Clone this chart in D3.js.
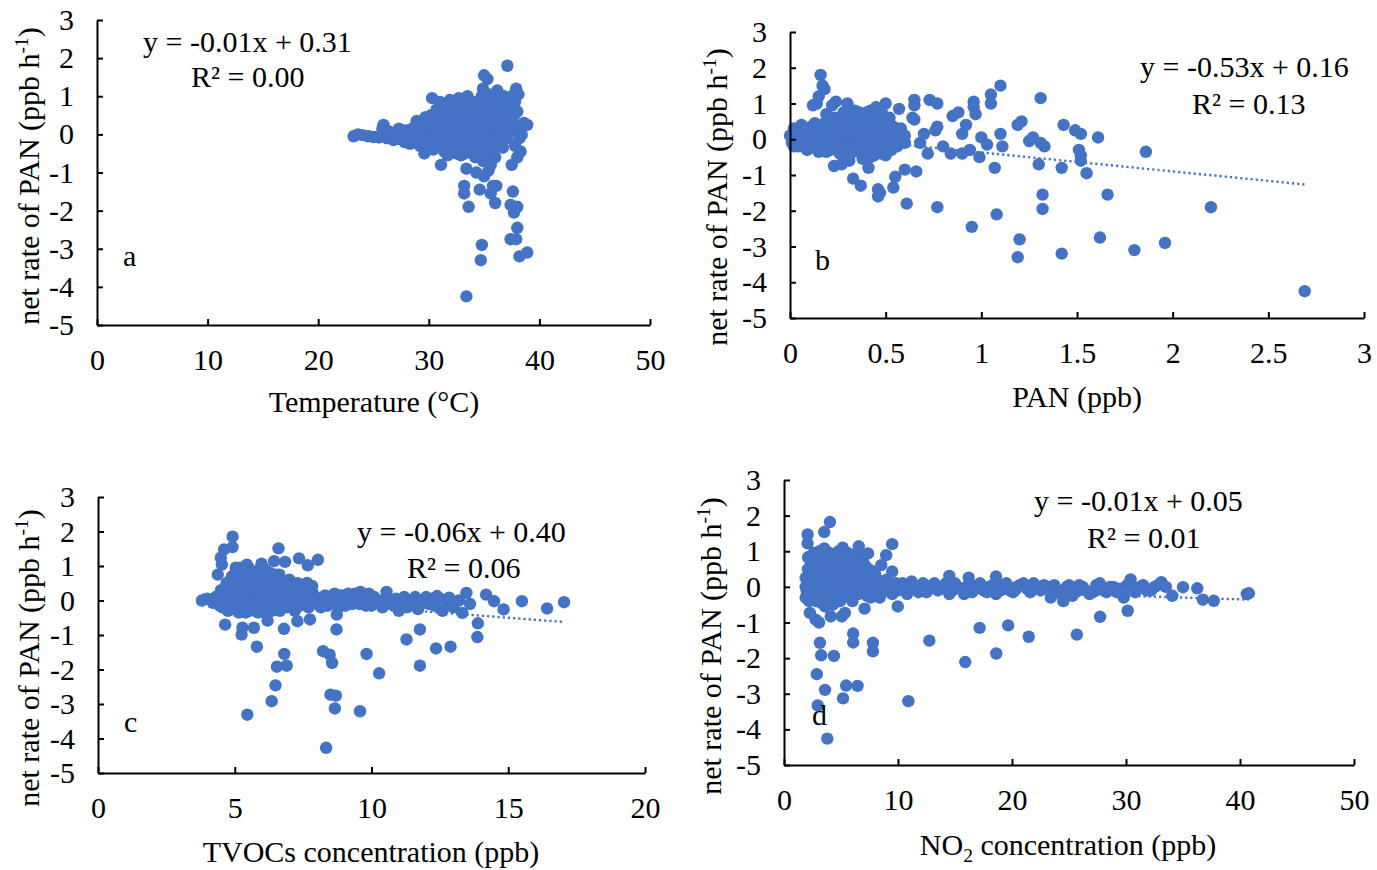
<!DOCTYPE html>
<html>
<head>
<meta charset="utf-8">
<script src="https://cdn.jsdelivr.net/npm/d3@7"></script>
<style>
  body { margin: 0; background: #fff; }
  svg { display: block; }
  text { font-family: "Liberation Serif", "Times New Roman", serif; fill: #000; }
</style>
</head>
<body>
<svg id="chart" width="1377" height="870"></svg>
<script>
// ---- data ----
const rateTicks = [-5, -4, -3, -2, -1, 0, 1, 2, 3];
const tempTicks = [0, 10, 20, 30, 40, 50];
const panTicks = [0, 0.5, 1, 1.5, 2, 2.5, 3];
const tvocTicks = [0, 5, 10, 15, 20];
const no2Ticks = [0, 10, 20, 30, 40, 50];

// [temperature, net rate]
const tempRate = [
  [23.2,-0.05],[23.6,0.0],[24.0,-0.02],[24.5,-0.05],[25.0,-0.07],[25.5,-0.08],[25.9,0.25],[25.8,0.15],[26.2,-0.1],[26.6,-0.02],
  [27.0,0.05],[27.3,-0.12],[27.6,0.1],[27.8,-0.2],[28.1,0.0],[28.3,-0.25],[28.5,0.15],[28.7,-0.1],[28.9,0.35],[29.0,0.05],
  [29.2,-0.3],[29.4,-0.15],[29.5,0.2],[29.6,-0.5],[29.7,0.45],[29.9,0.0],[30.0,-0.35],[30.1,0.25],
  [30.3,0.95],[30.4,-0.1],[30.5,0.15],[30.6,-0.25],[30.8,0.4],[30.9,0.05],[31.0,0.85],[31.0,-0.2],[31.1,-0.8],[31.2,0.3],
  [31.3,-0.05],[31.4,0.55],[31.5,0.1],[31.6,-0.3],[31.7,0.7],[31.8,0.2],[31.9,-0.1],[32.0,0.45],[32.1,-0.4],[32.2,0.05],
  [32.3,0.6],[32.4,-0.2],[32.5,0.3],[32.6,0.0],[32.7,0.95],[32.7,-0.35],[32.8,0.5],[32.9,0.15],[33.0,-0.1],[33.1,0.75],
  [33.2,0.35],[33.3,-0.5],[33.4,-0.9],[33.4,0.1],[33.5,1.0],[33.6,0.55],[33.7,-0.25],[33.8,0.25],[33.9,0.8],[34.0,-0.05],
  [34.1,0.45],[34.2,-0.6],[34.3,-1.0],[34.3,0.15],[34.4,0.65],[34.5,-0.3],[34.6,0.35],[34.7,0.9],[34.8,1.0],[34.8,-0.45],
  [34.9,1.2],[34.9,-0.7],[35.0,1.55],[35.0,0.05],[35.1,0.6],[35.2,-0.2],[35.3,1.45],[35.3,0.3],[35.4,-0.95],[35.5,0.75],
  [35.6,-0.8],[35.6,0.1],[35.8,0.5],[35.9,-0.4],[36.0,0.9],[36.1,0.2],[36.2,1.15],[36.3,-0.15],[36.5,0.65],[36.6,0.35],
  [36.7,-0.35],[36.8,1.0],[37.0,0.9],[37.1,1.8],[37.2,0.15],[37.3,0.55],[37.5,-0.8],[37.6,0.3],[37.7,1.05],[37.7,0.5],
  [37.8,-0.3],[37.9,1.2],[38.0,-0.6],[38.1,1.05],[38.2,-0.1],[38.3,-0.45],[38.4,0.0],[38.6,0.3],[38.9,0.25],
  [30.2,0.0],[31.0,0.1],[32.0,-0.05],[33.0,0.0],[34.0,0.3],[35.0,-0.1],[36.0,0.0],[36.9,0.1],
  [28.0,0.1],[28.4,-0.05],[28.8,0.2],[29.1,-0.2],[29.3,0.1],[29.8,0.3],[29.8,-0.25],[30.2,0.5],[30.4,-0.4],[30.7,0.65],
  [30.7,-0.05],[31.2,0.0],[31.4,-0.45],[31.6,0.35],[31.9,0.9],[32.1,0.2],[32.2,-0.25],[32.5,0.75],[32.5,-0.5],[32.8,0.3],
  [33.0,0.55],[33.1,-0.3],[33.3,0.2],[33.6,-0.05],[33.7,0.7],[33.9,0.4],[34.0,-0.35],[34.2,0.85],[34.4,0.0],[34.5,0.55],
  [34.7,0.15],[34.6,-0.15],[35.0,0.85],[35.1,0.35],[35.2,-0.5],[35.4,0.15],[35.5,1.05],[35.7,0.3],[35.7,-0.2],[35.9,0.7],
  [36.2,0.45],[36.4,0.05],[36.4,0.95],[36.6,-0.05],[36.8,0.55],[37.0,0.3],[37.1,-0.1],[37.3,0.8],[37.4,0.1],[37.8,0.85],
  [38.0,0.6],[38.3,0.2],[27.3,0.15],[26.8,-0.15],[26.4,0.08],[31.7,-0.55],[32.9,-0.55],[33.8,-0.45],
  [33.4,-4.25],[34.7,-3.3],[34.8,-2.9],[38.2,-3.2],[38.9,-3.1],[37.4,-2.75],[37.9,-2.75],[38.0,-2.45],[37.7,-2.05],[37.4,-1.85],
  [38.0,-1.9],[37.6,-1.5],[33.6,-1.9],[33.2,-1.55],[33.2,-1.35],[34.6,-1.45],[35.6,-1.55],[36.0,-1.8],[36.1,-1.35],[35.8,-1.35],
  [35.0,-1.1],[36.0,-0.6]
];

// [PAN, net rate]
const panRate = [
  [0.0,0.1],[0.01,-0.1],[0.02,0.3],[0.03,0.0],[0.04,-0.2],[0.05,0.2],[0.06,0.4],[0.07,-0.05],[0.08,0.1],[0.09,-0.3],
  [0.1,0.3],[0.11,0.0],[0.12,-0.15],[0.13,0.45],[0.14,0.15],[0.15,-0.35],[0.16,0.05],[0.17,0.3],[0.18,-0.2],[0.19,0.5],
  [0.2,0.1],[0.21,-0.3],[0.22,0.25],[0.23,-0.05],[0.24,0.6],[0.25,0.15],[0.26,-0.4],[0.27,0.35],[0.28,0.0],[0.29,-0.2],
  [0.3,0.5],[0.31,0.2],[0.32,-0.1],[0.33,0.65],[0.34,0.3],[0.35,-0.3],[0.36,0.1],[0.37,0.45],[0.38,-0.15],[0.39,0.2],
  [0.4,0.6],[0.41,0.0],[0.42,-0.35],[0.43,0.35],[0.44,0.1],[0.45,-0.2],[0.46,0.5],[0.47,0.2],[0.48,-0.4],[0.49,0.05],
  [0.5,0.3],[0.51,-0.1],[0.52,0.45],[0.53,-0.3],[0.55,0.15],[0.57,-0.05],[0.05,-0.05],[0.1,0.1],[0.2,-0.1],[0.3,0.0],
  [0.35,0.4],[0.4,0.25],[0.45,0.0],[0.25,0.4],[0.15,0.25],
  [0.02,-0.2],[0.03,0.15],[0.04,0.05],[0.06,-0.15],[0.07,0.25],[0.08,-0.25],[0.09,0.05],[0.1,-0.1],[0.11,0.35],[0.12,0.2],
  [0.13,-0.25],[0.14,0.0],[0.16,0.4],[0.17,-0.1],[0.18,0.15],[0.19,-0.35],[0.2,0.4],[0.21,0.05],[0.22,-0.2],[0.23,0.5],
  [0.24,0.25],[0.25,-0.25],[0.26,0.05],[0.27,0.55],[0.28,-0.35],[0.29,0.3],[0.3,-0.25],[0.31,0.4],[0.32,0.1],[0.33,-0.35],
  [0.34,0.5],[0.35,0.05],[0.36,-0.2],[0.37,0.25],[0.38,0.55],[0.39,-0.3],[0.4,0.05],[0.41,0.4],[0.42,0.15],[0.43,-0.15],
  [0.44,0.6],[0.45,0.3],[0.46,-0.35],[0.47,0.05],[0.48,0.45],[0.49,-0.2],[0.5,0.6],[0.51,0.2],[0.52,-0.3],[0.53,0.05],
  [0.54,0.35],[0.56,-0.2],[0.58,0.3],[0.29,0.7],[0.34,0.8],[0.42,0.8],[0.2,0.65],[0.48,0.75],[0.5,-0.45],[0.42,-0.5],
  [0.38,-0.55],[0.28,-0.5],[0.44,-0.45],
  [0.16,1.8],[0.17,1.5],[0.18,1.4],[0.15,1.2],[0.14,1.0],[0.12,0.95],[0.24,1.05],[0.22,0.95],[0.3,1.0],[0.36,0.75],
  [0.4,0.75],[0.45,0.9],[0.5,1.0],[0.52,0.6],[0.19,0.7],[0.28,0.75],
  [0.23,-0.75],[0.27,-0.7],[0.31,-0.6],[0.33,-1.1],[0.37,-1.3],[0.41,-0.8],[0.46,-1.4],[0.46,-1.6],[0.47,-1.5],[0.54,-1.35],
  [0.55,-1.05],[0.6,-0.85],[0.6,0.1],[0.6,-0.1],[0.57,0.85],[0.64,0.6],[0.65,1.1],[0.65,0.95],[0.65,0.55],[0.66,-0.9],
  [0.68,-0.1],[0.7,0.15],[0.72,-0.4],[0.73,1.1],[0.77,1.0],[0.76,0.25],[0.77,0.35],[0.8,-0.2],[0.84,-0.4],[0.85,0.65],
  [0.88,0.75],[0.9,0.15],[0.9,-0.4],[0.92,0.4],[0.94,-0.3],[0.96,1.05],[0.96,0.9],[0.97,0.7],[0.99,-0.5],[1.0,0.05],
  [1.03,-0.15],[1.05,1.25],[1.05,1.0],[1.07,-0.8],[1.1,1.5],[1.1,0.15],[1.11,-0.2],[1.19,0.4],[1.21,0.5],[1.25,-0.05],
  [1.27,0.05],[1.31,-0.1],[1.33,-0.2],[1.31,1.15],[1.3,-0.7],[1.42,-0.8],[1.43,0.4],[1.49,0.25],[1.52,0.15],[1.51,-0.3],
  [1.52,-0.45],[1.52,-0.6],[1.55,-0.95],[1.61,0.05],[1.86,-0.35],
  [0.61,-1.8],[0.77,-1.9],[0.95,-2.45],[1.08,-2.1],[1.2,-2.8],[1.19,-3.3],[1.42,-3.2],[1.62,-2.75],[1.8,-3.1],[1.96,-2.9],
  [1.32,-1.55],[1.32,-1.95],[1.66,-1.55],[2.2,-1.9],[2.69,-4.25]
];

// [TVOCs, net rate]
const tvocRate = [
  [3.8,0.0],[4.0,0.05],[4.2,-0.07],[4.3,0.1],[4.45,-0.15],[4.5,0.3],[4.6,0.0],[4.7,0.5],[4.75,-0.3],[4.8,0.2],
  [4.9,0.7],[4.95,-0.1],[5.0,0.4],[5.05,0.9],[5.1,0.0],[5.15,-0.35],[5.2,0.6],[5.25,0.2],[5.3,-0.2],[5.35,0.8],
  [5.4,0.4],[5.45,0.0],[5.5,0.95],[5.55,-0.3],[5.6,0.55],[5.65,0.15],[5.7,-0.1],[5.75,0.7],[5.8,0.3],[5.85,-0.35],
  [5.9,0.05],[5.95,0.5],[6.0,0.85],[6.05,-0.2],[6.1,0.25],[6.15,0.6],[6.2,-0.05],[6.3,0.35],[6.35,-0.3],[6.4,0.1],
  [6.5,0.5],[6.55,0.75],[6.6,-0.1],[6.7,0.2],[6.8,0.4],[6.9,-0.2],[7.0,0.1],[7.1,0.3],[7.2,-0.3],[7.3,0.05],
  [7.45,0.2],[7.6,-0.1],[7.75,0.0],[7.9,0.15],[8.05,-0.1],[8.2,0.05],[8.4,-0.15],[8.55,0.1],[8.7,-0.05],[8.9,0.15],
  [9.05,-0.15],[9.2,0.05],[9.4,0.2],[9.55,-0.1],[9.7,0.0],[9.9,0.2],[10.0,-0.15],[10.2,0.0],[10.4,-0.2],[10.55,0.25],
  [10.7,-0.05],[10.9,0.05],[11.0,-0.3],[11.2,0.1],[11.4,-0.1],[11.55,0.05],[11.7,-0.25],[11.9,0.0],[12.1,-0.1],[12.2,0.05],
  [5.0,0.0],[5.5,0.2],[6.0,0.0],[4.85,0.4],[5.2,-0.15],[6.25,0.45],[5.75,-0.2],
  [4.4,0.1],[4.55,-0.2],[4.65,0.25],[4.8,-0.05],[4.85,0.6],[4.9,-0.25],[5.0,0.75],[5.05,0.15],[5.1,0.5],[5.15,-0.1],
  [5.2,0.95],[5.3,0.35],[5.3,0.05],[5.4,-0.35],[5.45,0.65],[5.5,-0.15],[5.55,0.35],[5.6,0.85],[5.65,-0.25],[5.7,0.45],
  [5.8,0.05],[5.85,0.6],[5.9,0.9],[5.95,-0.15],[6.0,0.25],[6.05,0.7],[6.1,-0.35],[6.2,0.5],[6.25,0.0],[6.3,0.8],
  [6.4,-0.15],[6.45,0.35],[6.5,0.15],[6.6,0.55],[6.65,-0.3],[6.75,0.05],[6.85,0.25],[6.95,0.5],[7.05,-0.1],[7.15,0.15],
  [7.25,0.1],[7.4,-0.15],[7.5,0.3],[7.55,0.05],[7.7,-0.2],[7.85,0.2],[8.0,0.0],[8.15,-0.2],[8.3,0.15],[8.5,-0.05],
  [8.65,0.2],[8.8,-0.2],[9.0,0.0],[9.15,0.2],[9.3,-0.1],[9.5,0.0],[9.6,0.25],[9.8,-0.15],[10.1,0.1],[10.3,-0.1],
  [10.5,0.05],[10.8,-0.15],[11.1,0.0],[11.3,-0.2],[11.6,0.1],[11.8,-0.1],[12.0,0.1],[12.3,-0.15],[12.5,0.05],[12.8,-0.1],
  [13.0,-0.2],[13.2,0.0],[13.6,-0.1],[7.0,0.6],[7.8,0.35],[7.3,0.5],
  [4.92,1.85],[4.92,1.55],[4.61,1.48],[4.49,1.24],[4.53,1.04],[4.38,0.75],[6.6,1.51],[6.44,1.14],[6.84,1.12],[5.98,1.07],
  [7.35,1.22],[7.67,1.02],[8.04,1.18],[7.64,0.51],[7.83,0.42],[6.63,0.75],[6.11,0.9],[5.44,1.04],[5.04,0.95],
  [12.4,0.13],[12.6,-0.3],[12.84,0.08],[13.32,-0.36],[13.47,0.22],[14.19,0.17],[14.48,-0.02],[14.83,-0.26],[15.5,-0.02],
  [16.42,-0.23],[17.04,-0.05],
  [4.65,-0.7],[5.25,-0.99],[5.28,-0.79],[5.7,-0.79],[6.2,-0.58],[6.8,-0.82],[7.29,-0.6],[7.75,-0.55],[5.81,-1.34],[6.81,-1.55],
  [6.54,-1.92],[6.9,-1.89],[6.49,-2.46],[6.35,-2.92],[5.46,-3.31],[8.34,-4.27],[8.23,-1.47],[8.47,-1.57],[8.56,-1.81],[8.5,-2.73],
  [8.7,-2.76],[8.66,-3.13],[9.58,-3.21],[8.72,-0.84],[8.73,-0.41],[9.82,-1.55],[10.28,-2.11],[11.28,-1.13],[11.77,-0.84],[11.77,-1.89],
  [12.36,-1.39],[12.89,-1.34],[13.87,-1.06],[13.89,-0.66]
];

// [NO2, net rate]
const no2Rate = [
  [1.9,0.0],[1.9,-0.3],[2.2,0.3],[2.4,-0.2],[2.5,0.6],[2.6,0.1],[2.8,-0.4],[2.9,0.85],[3.0,0.3],[3.1,-0.1],
  [3.3,0.55],[3.4,-0.35],[3.5,0.15],[3.6,0.7],[3.8,-0.2],[3.9,0.4],[4.0,0.95],[4.1,0.0],[4.3,-0.5],[4.4,0.6],
  [4.5,0.25],[4.7,-0.15],[4.8,0.8],[4.9,0.4],[5.0,-0.35],[5.2,0.1],[5.3,0.65],[5.5,-0.05],[5.6,0.95],[5.7,0.35],
  [5.9,-0.3],[6.0,0.55],[6.2,0.15],[6.4,0.85],[6.5,-0.2],[6.7,0.4],[6.9,0.05],[7.1,0.6],[7.3,-0.25],[7.5,0.2],
  [7.7,0.45],[7.9,-0.1],[8.1,0.1],[8.4,-0.3],[8.7,0.05],[9.0,0.2],[9.3,-0.15],[9.6,0.05],[10.0,-0.1],[10.4,0.1],
  [10.8,-0.2],[11.2,0.15],[11.6,-0.05],[12.0,0.0],[12.5,-0.15],[13.0,0.05],[13.5,-0.1],[14.0,0.0],[14.5,-0.2],[15.0,0.1],
  [15.5,-0.05],[16.0,0.0],[16.5,-0.15],[17.0,0.05],[17.5,-0.1],[18.0,0.0],[18.6,-0.2],[19.2,0.05],[19.8,-0.1],[20.4,0.0],
  [21.0,0.1],[21.6,-0.15],[22.2,0.0],[22.8,0.05],[23.4,-0.3],[24.0,-0.1],[24.5,-0.4],[25.0,0.05],[25.6,-0.15],[26.2,0.0],
  [26.8,-0.2],[27.4,0.05],[28.0,-0.1],[28.6,0.0],[29.2,-0.15],[29.8,-0.3],[30.5,-0.05],[31.2,0.0],[31.8,-0.1],[32.5,0.0],
  [3.0,0.0],[4.0,0.3],[5.0,0.2],[6.0,-0.1],[2.3,0.0],[7.0,0.0],
  [1.9,0.25],[2.0,-0.1],[2.1,0.5],[2.2,-0.4],[2.3,0.75],[2.4,0.2],[2.5,-0.05],[2.6,0.95],[2.7,0.45],[2.8,0.05],
  [2.9,-0.25],[3.0,0.65],[3.1,1.0],[3.2,0.2],[3.3,-0.45],[3.4,0.4],[3.5,0.0],[3.6,-0.55],[3.7,0.3],[3.8,0.85],
  [3.9,0.1],[4.0,-0.35],[4.1,0.6],[4.2,0.8],[4.3,0.2],[4.5,-0.3],[4.6,0.45],[4.7,0.05],[4.8,1.0],[4.9,-0.4],
  [5.0,0.6],[5.1,0.3],[5.3,-0.2],[5.4,0.45],[5.5,0.8],[5.6,0.05],[5.8,0.6],[5.9,0.2],[6.0,-0.4],[6.1,0.9],
  [6.2,0.35],[6.3,-0.1],[6.5,0.6],[6.6,0.15],[6.8,-0.15],[6.9,0.75],[7.0,0.3],[7.2,-0.05],[7.4,0.5],[7.6,-0.3],
  [7.8,0.15],[8.0,0.35],[8.2,-0.15],[8.5,0.15],[8.8,-0.1],[9.1,0.05],[9.5,-0.2],[9.8,0.1],[10.2,-0.05],[10.6,0.05],
  [11.0,-0.1],[11.4,0.05],[11.8,-0.15],[12.2,0.1],[12.8,-0.05],[13.2,0.1],[13.8,-0.05],[14.2,0.1],[14.8,-0.1],[15.2,0.0],
  [15.8,-0.2],[16.2,0.05],[16.8,-0.05],[17.2,0.1],[17.8,-0.15],[18.3,0.05],[19.0,-0.1],[19.5,0.1],[20.1,-0.15],[20.7,0.05],
  [21.3,-0.05],[21.9,0.1],[22.5,-0.1],[23.1,0.0],[23.7,0.05],[24.3,-0.2],[24.8,0.0],[25.3,-0.25],[25.9,0.05],[26.5,-0.1],
  [27.1,-0.15],[27.7,0.1],[28.3,-0.15],[28.9,0.0],[29.5,-0.05],[30.1,0.05],[30.8,-0.15],[31.5,0.05],[32.2,-0.1],[32.8,0.05],
  [33.5,0.0],
  [4.03,1.82],[3.53,1.54],[2.07,1.47],[2.07,1.22],[2.11,0.83],[3.53,1.08],[5.15,1.1],[6.56,1.14],[9.49,1.2],[8.96,0.89],
  [7.37,0.94],[8.53,0.61],[9.49,0.43],[18.6,0.29],[14.5,0.31],[16.2,0.26],
  [30.4,0.21],[33.1,0.13],[34.06,-0.25],[35.0,-0.01],[36.25,-0.04],[36.75,-0.36],[37.7,-0.39],[40.6,-0.2],[40.78,-0.18],
  [2.27,-0.73],[2.77,-0.92],[3.07,-1.0],[4.1,-0.83],[5.07,-0.83],[5.34,-0.73],[7.07,-0.61],[9.98,-0.55],
  [3.15,-1.57],[3.26,-1.92],[4.38,-1.94],[2.88,-2.45],[3.6,-2.89],[2.96,-3.33],[3.8,-4.26],[5.18,-3.13],[5.45,-2.77],[6.45,-2.78],
  [6.07,-1.31],[6.07,-1.56],[7.8,-1.57],[7.8,-1.81],[10.91,-3.21],[12.75,-1.51],[15.9,-2.11],[17.16,-1.15],[18.62,-1.87],[19.66,-1.08],
  [21.47,-1.4],[25.69,-1.34],[27.73,-0.84],[30.15,-0.67]
];

// linear fits as printed on the panels [slope, intercept]
const fitA = [-0.01, 0.31], fitB = [-0.53, 0.16], fitC = [-0.06, 0.40], fitD = [-0.01, 0.05];

// ---- layout ----
const BLUE = '#4472C4';
const FONT = 30;

const panels = [
  { data: tempRate, xTicks: tempTicks, fit: fitA, eq: 'y = -0.01x + 0.31', r2: 'R² = 0.00', letter: 'a',
    xLabel: ['Temperature (°C)'], left: 97, right: 650, top: 20, bottom: 325,
    eqPos: [143, 52], r2Pos: [191, 87], letterPos: [123, 266], xLabelPos: [374, 412], yLabelPos: [28, 176] },
  { data: panRate, xTicks: panTicks, fit: fitB, eq: 'y = -0.53x + 0.16', r2: 'R² = 0.13', letter: 'b',
    xLabel: ['PAN (ppb)'], left: 790, right: 1364, top: 32, bottom: 318,
    eqPos: [1140, 77], r2Pos: [1192, 114], letterPos: [815, 270], xLabelPos: [1077, 407], yLabelPos: [716, 197] },
  { data: tvocRate, xTicks: tvocTicks, fit: fitC, eq: 'y = -0.06x + 0.40', r2: 'R² = 0.06', letter: 'c',
    xLabel: ['TVOCs concentration (ppb)'], left: 98, right: 645, top: 497, bottom: 773,
    eqPos: [357, 542], r2Pos: [407, 578], letterPos: [124, 732], xLabelPos: [371, 862], yLabelPos: [28, 658] },
  { data: no2Rate, xTicks: no2Ticks, fit: fitD, eq: 'y = -0.01x + 0.05', r2: 'R² = 0.01', letter: 'd',
    xLabel: ['NO', '2', ' concentration (ppb)'], left: 784, right: 1354, top: 480, bottom: 765,
    eqPos: [1034, 511], r2Pos: [1087, 548], letterPos: [812, 725], xLabelPos: [1068, 855], yLabelPos: [710, 646] }
];

const svg = d3.select('#chart');

panels.forEach(p => {
  const x = d3.scaleLinear().domain(d3.extent(p.xTicks)).range([p.left, p.right]);
  const y = d3.scaleLinear().domain(d3.extent(rateTicks)).range([p.bottom, p.top]);
  const g = svg.append('g');

  // points
  g.append('g').selectAll('circle')
    .data(p.data)
    .join('circle')
    .attr('cx', d => x(d[0]))
    .attr('cy', d => y(d[1]))
    .attr('r', 6.2)
    .attr('fill', BLUE);

  // dotted trend line across the data range
  const xr = d3.extent(p.data, d => d[0]);
  g.append('path')
    .datum(xr.map(v => [v, p.fit[0] * v + p.fit[1]]))
    .attr('d', d3.line().x(d => x(d[0])).y(d => y(d[1])))
    .attr('fill', 'none')
    .attr('stroke', BLUE)
    .attr('stroke-width', 2.4)
    .attr('stroke-dasharray', '2.2,3');

  // axes, ticks pointing inward
  const xAxis = g.append('g')
    .attr('transform', `translate(0,${p.bottom})`)
    .call(d3.axisBottom(x).tickValues(p.xTicks).tickSize(-6).tickSizeOuter(0).tickPadding(24).tickFormat(d => String(d)));
  const yAxis = g.append('g')
    .attr('transform', `translate(${p.left},0)`)
    .call(d3.axisLeft(y).tickValues(rateTicks).tickSize(-6).tickSizeOuter(0).tickPadding(23).tickFormat(d => String(d)));
  [xAxis, yAxis].forEach(a => {
    a.attr('font-size', FONT).attr('font-family', '"Liberation Serif", "Times New Roman", serif');
    a.selectAll('path, line').attr('stroke', '#000').attr('stroke-width', 2);
    a.selectAll('text').attr('fill', '#000');
  });

  // x label
  const xl = g.append('text')
    .attr('x', p.xLabelPos[0]).attr('y', p.xLabelPos[1])
    .attr('text-anchor', 'middle').attr('font-size', FONT);
  if (p.xLabel.length === 1) {
    xl.text(p.xLabel[0]);
  } else {
    xl.append('tspan').text(p.xLabel[0]);
    xl.append('tspan').attr('font-size', FONT * 0.65).attr('dy', 7).text(p.xLabel[1]);
    xl.append('tspan').attr('dy', -7).text(p.xLabel[2]);
  }

  // y label (rotated)
  const yl = g.append('text')
    .attr('transform', `translate(${p.yLabelPos[0]},${p.yLabelPos[1]}) rotate(-90)`)
    .attr('text-anchor', 'middle').attr('dy', '0.35em').attr('font-size', FONT);
  yl.append('tspan').text('net rate of PAN (ppb h');
  yl.append('tspan').attr('font-size', FONT * 0.65).attr('dy', -11).text('-1');
  yl.append('tspan').attr('dy', 11).text(')');

  // equation, R² and panel letter
  g.append('text').attr('x', p.eqPos[0]).attr('y', p.eqPos[1]).attr('font-size', FONT).text(p.eq);
  g.append('text').attr('x', p.r2Pos[0]).attr('y', p.r2Pos[1]).attr('font-size', FONT).text(p.r2);
  g.append('text').attr('x', p.letterPos[0]).attr('y', p.letterPos[1]).attr('font-size', FONT).text(p.letter);
});
</script>
</body>
</html>
